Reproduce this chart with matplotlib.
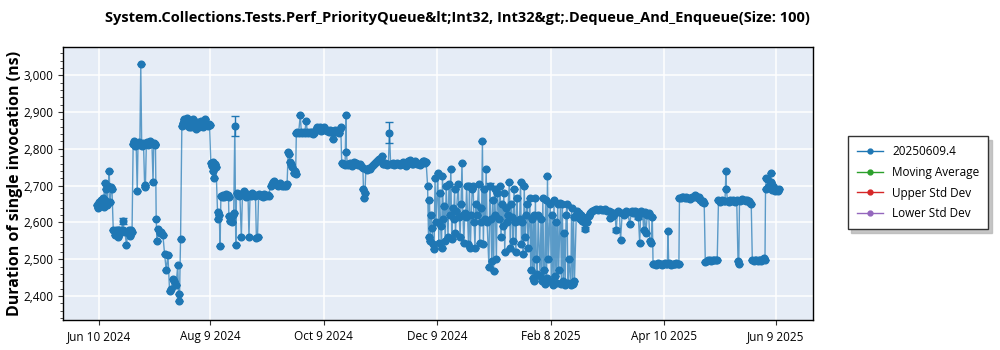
import numpy as np
import matplotlib.pyplot as plt
import matplotlib.dates as mdates
from matplotlib.lines import Line2D
from matplotlib.ticker import AutoMinorLocator, FuncFormatter
import datetime as dt

plt.rcParams['font.family'] = ['Open Sans', 'DejaVu Sans']

# days since 2024-06-10 and mean duration per run (ns)
start = dt.datetime(2024, 6, 10)

day_offset = [
    -1, -0.5, 0, 0.5, 1, 1.5, 2, 2.5, 3, 3.5, 4, 4.5, 5, 5.5, 6, 6.5, 7,
    7.7, 8.5, 9, 9.5, 10, 10.5, 11, 11.5, 12, 12.7, 13.2, 14, 14.8, 15.5, 16, 16.5, 17.2, 17.8,
    18.4, 19, 19.5, 20, 20.6, 21, 21.5, 22, 22.5, 23, 23.5, 24, 24.6, 25, 25.5, 26, 26.5, 27, 27.5,
    28, 28.5, 29.1, 29.5, 30, 30.4,
    30.8, 31.2, 31.7, 32.6, 33.5, 34.4, 35.3, 36.2, 37.1, 38.0, 38.9, 39.7, 40.6, 41.5, 42.4, 42.8,
    43.3, 43.9,
    44.6, 45, 45.5, 46, 46.5, 47, 47.5, 48, 48.5, 49, 49.5, 50, 50.5, 51, 51.5, 52, 52.5, 53, 53.5,
    54, 54.5, 55, 55.5, 56, 56.5, 57, 57.5, 58, 58.5, 59, 59.5,
    60.2, 60.7, 61.2, 61.6, 62, 62.5, 63,
    63.8, 64.2, 64.7, 65.2,
    65.6, 66.2, 66.8, 67.4, 68, 68.6, 69.2, 69.7,
    69.9, 70.5, 71, 71.5, 72, 72.5, 73.1, 73.6,
    74, 74.6, 75.2, 75.8, 76.6, 77.2, 77.8, 78.4, 79, 79.6, 80.2, 80.7, 81.3, 81.9, 82.5, 83.1, 83.7,
    84.2, 84.7, 85.3, 85.9, 86.5, 87.1, 87.7, 88.3, 88.9, 89.5, 90.1, 90.7, 91.3,
    92.3, 93, 93.7, 94.4, 95.1, 95.8, 96.5, 97.2, 97.9, 98.6, 99.3, 100, 100.6, 101.2,
    101.8, 102.3, 102.9, 103.5, 104.1, 104.7, 105.3, 105.8,
    106.2, 106.8, 107.4, 108.3, 108.9, 109.5, 110.1, 110.7, 111.5, 112.1, 112.7, 113.3, 113.9, 114.5,
    115.1, 115.7, 116.3, 116.9, 117.5, 118.1, 118.7, 119.3, 119.9, 120.5, 121.1, 121.7, 122.3, 122.9,
    123.5, 124.1, 124.7, 125.3, 125.9, 126.5, 127.1, 127.7, 128.3, 128.9, 129.5, 130.1,
    130.6, 131.2, 131.8, 132.4, 132.9, 133.1, 133.6, 134.2, 134.8, 135.4, 136, 136.6, 137.2, 137.8,
    138.4, 139, 139.6, 140.2, 140.8, 141.4,
    142, 142.3, 142.7, 143.1, 143.6, 144.2, 144.8, 145.4, 146,
    146.7, 147.3, 147.9, 148.5, 149.1, 149.7, 150.3, 150.9, 151.5, 152.1, 152.7, 153.3, 153.9, 154.5,
    155.1, 155.7, 156.3, 156.9, 157.5, 158.1, 158.7, 159.3, 159.9, 160.5, 161.1, 161.7, 162.3, 162.9,
    163.5, 164.1, 164.7, 165.3, 165.9, 166.5, 167.1, 167.7, 168.3, 168.9, 169.5, 170.1, 170.7, 171.3,
    171.9, 172.5, 173.1, 173.7, 174.3, 174.9, 175.5, 176,
    176.8, 177.3, 177.8, 178.3, 178.8, 179.3, 179.8, 180.3, 180.8, 181.3,
    182.3, 182.8, 183.3, 183.8, 184.3, 184.8, 185.3, 185.8, 186.3, 186.8,
    187.8, 188.3, 188.8, 189.3, 189.8, 190.3, 190.8, 191.3, 191.8, 192.3,
    193.3, 193.8, 194.3, 194.8, 195.3, 195.8, 196.3, 196.8, 197.3, 197.8,
    198.8, 199.3, 199.8, 200.3, 200.8, 201.3, 201.8, 202.3, 202.8, 203.3,
    204.3, 204.8, 205.3, 205.8, 206.3, 206.8, 207.3, 207.8, 208.3, 208.8,
    209.8, 210.3, 210.8, 211.3, 211.8, 212.3, 212.8, 213.3, 213.8, 214.3,
    215.3, 215.8, 216.3, 216.8, 217.3, 217.8, 218.3, 218.8, 219.3, 219.8,
    220.8, 221.3, 221.8, 222.3, 222.8, 223.3, 223.8, 224.3, 224.8, 225.3,
    226.3, 226.8, 227.3, 227.8, 228.3, 228.8, 229.3, 229.8, 230.3, 230.8,
    231.8, 232.3, 232.8, 233.3, 233.8, 234.3, 234.8, 235.3, 235.8, 236.3,
    237.3, 237.8, 238.3, 238.8, 239.3, 239.8, 240.3, 240.8, 241.3, 241.8,
    242.8, 243.3, 243.8, 244.3, 244.8, 245.3, 245.8, 246.3, 246.8, 247.3,
    248.3, 248.8, 249.3, 249.8, 250.3, 250.8, 251.3, 251.8, 252.3, 252.8,
    253.8, 254.3, 254.8, 255.3, 255.8,
    256.8, 257.4, 258, 258.6, 259.2, 259.8, 260.4, 261, 261.6, 262.2, 262.8, 263.4, 264, 264.6,
    265.5, 266.5, 267.5, 268.5, 269.5, 270.5, 271.5, 272.5, 273.5, 274.5, 275, 275.5, 276.5, 277.5,
    278.3, 279, 280, 280.6, 281.5, 282.5, 283.5, 284.5, 285.5, 286.5, 287.5, 288.5, 289.5, 290.2,
    290.9, 291.5, 292.5, 293, 293.5, 294.2, 295, 295.7, 296.4, 297.2, 297.7,
    298.1, 298.8, 299.5, 300.2, 300.9, 301.6, 302.3, 303, 303.7, 304.4, 305.1, 305.8, 306.1, 306.5,
    307.2, 307.9, 308.6, 309.3, 310, 310.7, 311.4, 312,
    312.3, 313, 313.7, 314.4, 315.1, 315.8, 316.5, 317.2, 317.9, 318.6, 319.3, 320, 320.7, 321.4,
    322.1, 322.8, 323.5, 324.2, 324.9, 325.6,
    326.2, 327, 327.8, 328.6, 329.4, 330.2, 331, 331.8, 332.6,
    333.3, 334, 334.7, 335.4, 336.1, 336.8, 337.3, 337.5, 338.2, 338.9, 339.6, 340.3, 341, 341.7,
    342.4, 343.1, 343.8, 344.2, 344.6, 345.3, 346, 346.7, 347.4, 348.1, 348.8, 349.5, 350.2, 350.9,
    351.5, 352.2, 352.9, 353.6, 354.3, 355, 355.7, 356.4, 357.1, 357.8, 358.3,
    358.6, 359.1, 359.6, 360.1, 360.6, 361.3, 361.8, 362.3, 362.8, 363.3, 363.8, 364.3, 364.8, 365.3,
    365.8,
]

duration_ns = [
    2648, 2640, 2655, 2645, 2660, 2650, 2665, 2642, 2708, 2660, 2690, 2648, 2700, 2740, 2655, 2695, 2690,
    2580, 2565, 2578, 2575, 2560, 2578, 2580, 2570, 2575, 2605, 2578, 2575, 2538, 2575, 2580, 2562, 2578, 2575,
    2812, 2820, 2808, 2815, 2684, 2810, 2818, 2812, 3030, 2808, 2815, 2810, 2695, 2702, 2812, 2818, 2810, 2816, 2820,
    2812, 2815, 2711, 2815, 2810, 2812,
    2610, 2550, 2582, 2572, 2575, 2565, 2515, 2470, 2512, 2414, 2418, 2446, 2440, 2430, 2484, 2405,
    2386, 2554,
    2862, 2870, 2875, 2880, 2872, 2865, 2885, 2870, 2860, 2865, 2858, 2862, 2880, 2868, 2870, 2855, 2862, 2865, 2872,
    2860, 2868, 2875, 2862, 2858, 2865, 2880, 2870, 2866, 2862, 2868, 2864,
    2762, 2752, 2740, 2765, 2722, 2758, 2750,
    2627, 2608, 2620, 2536,
    2672, 2668, 2675, 2670, 2672, 2678, 2674, 2670,
    2618, 2605, 2612, 2600, 2620, 2625, 2862, 2538,
    2680, 2675, 2672, 2678, 2559, 2676, 2684, 2675, 2670, 2678, 2672, 2559, 2675, 2673, 2680, 2676, 2672,
    2675, 2558, 2560, 2676, 2674, 2672, 2675, 2670, 2676, 2674, 2672, 2675, 2673,
    2698, 2705, 2710, 2712, 2704, 2702, 2700, 2706, 2702, 2700, 2698, 2702, 2700, 2704,
    2790, 2785, 2765, 2760, 2750, 2735, 2740, 2732,
    2843, 2846, 2842, 2891, 2845, 2843, 2847, 2844, 2876, 2845, 2842, 2846, 2843, 2845,
    2840, 2844, 2848, 2852, 2858, 2855, 2860, 2848, 2856, 2852, 2858, 2855, 2850, 2848,
    2846, 2850, 2845, 2848, 2826, 2846, 2850, 2845, 2848, 2843, 2855, 2858,
    2762, 2758, 2760, 2755, 2892, 2790, 2760, 2757, 2762, 2755, 2752, 2760, 2765, 2758,
    2762, 2760, 2755, 2758, 2752, 2750,
    2748, 2690, 2667, 2680, 2745, 2742, 2745, 2748, 2746,
    2752, 2756, 2760, 2762, 2765, 2768, 2770, 2772, 2776, 2780, 2760, 2758, 2762, 2760,
    2757, 2760, 2844, 2760, 2758, 2762, 2756, 2760, 2758, 2762, 2760, 2757, 2760, 2762,
    2764, 2758, 2755, 2752, 2760, 2768, 2770, 2762, 2758, 2760, 2764, 2766, 2762, 2758,
    2760, 2756, 2760, 2765, 2768, 2766, 2762, 2765,
    2700, 2560, 2660, 2550, 2620, 2585, 2540, 2527, 2720, 2600,
    2735, 2545, 2680, 2590, 2530, 2725, 2610, 2645, 2550, 2700,
    2560, 2705, 2620, 2745, 2555, 2640, 2610, 2690, 2570, 2630,
    2705, 2615, 2560, 2650, 2762, 2620, 2545, 2625, 2615, 2700,
    2540, 2700, 2530, 2620, 2690, 2700, 2600, 2530, 2650, 2620,
    2705, 2545, 2640, 2600, 2821, 2540, 2690, 2610, 2745, 2600,
    2480, 2700, 2610, 2495, 2660, 2468, 2690, 2620, 2500, 2680,
    2610, 2700, 2560, 2650, 2590, 2680, 2520, 2640, 2600, 2620,
    2710, 2530, 2650, 2615, 2550, 2690, 2600, 2520, 2665, 2605,
    2610, 2710, 2540, 2600, 2515, 2700, 2560, 2620, 2650, 2530,
    2665, 2470, 2610, 2450, 2620, 2440, 2665, 2500, 2460, 2620,
    2455, 2610, 2440, 2665, 2470, 2433, 2660, 2450, 2726, 2500,
    2650, 2440, 2620, 2430, 2660, 2455, 2600, 2435, 2650, 2470,
    2654, 2432, 2650, 2440, 2570, 2430, 2620, 2650, 2435, 2500,
    2430, 2640, 2432, 2615, 2440,
    2620, 2632, 2625, 2610, 2620, 2605, 2615, 2600, 2582, 2612, 2600, 2618, 2625, 2628,
    2630, 2633, 2636, 2634, 2637, 2635, 2633, 2636, 2630, 2632, 2612, 2628, 2618, 2625,
    2579, 2630, 2628, 2552, 2625, 2620, 2632, 2628, 2595, 2630, 2626, 2632, 2628, 2615,
    2545, 2630, 2625, 2580, 2628, 2570, 2620, 2625, 2550, 2545, 2615,
    2486, 2488, 2484, 2487, 2489, 2486, 2488, 2485, 2487, 2489, 2486, 2488, 2577, 2490,
    2487, 2485, 2488, 2486, 2487, 2489, 2486, 2488,
    2665, 2667, 2670, 2668, 2666, 2668, 2665, 2667, 2664, 2666, 2668, 2670, 2674, 2672,
    2666, 2668, 2660, 2655, 2657, 2654,
    2493, 2496, 2497, 2498, 2496, 2497, 2499, 2497, 2498,
    2660, 2656, 2658, 2662, 2657, 2659, 2740, 2690, 2658, 2655, 2660, 2657, 2662, 2658,
    2656, 2660, 2495, 2488, 2658, 2662, 2664, 2660, 2662, 2658, 2661, 2659, 2652, 2650,
    2497, 2496, 2498, 2497, 2495, 2497, 2498, 2496, 2500, 2503, 2497,
    2690, 2722, 2718, 2695, 2700, 2735, 2710, 2688, 2700, 2692, 2686, 2690, 2688, 2684,
    2690,
]

# runs with a noticeable spread
err_day = [12.7, 73.1, 156.3, 210.3, 261.6, 278.3, 290.2]
err_ns = [8, 27, 28, 7, 6, 5, 5]

tick_labels = ['Jun 10 2024', 'Aug 9 2024', 'Oct 9 2024', 'Dec 9 2024',
               'Feb 8 2025', 'Apr 10 2025', 'Jun 9 2025']
tick_dates = [dt.datetime(2024, 6, 10), dt.datetime(2024, 8, 9), dt.datetime(2024, 10, 9),
              dt.datetime(2024, 12, 9), dt.datetime(2025, 2, 8), dt.datetime(2025, 4, 10),
              dt.datetime(2025, 6, 9)]

blue = '#1f77b4'
x = mdates.date2num(start) + np.array(day_offset)
y = np.array(duration_ns, dtype=float)
yerr = np.zeros(len(y))
for d, e in zip(err_day, err_ns):
    yerr[np.argmin(np.abs(np.array(day_offset) - d))] = e

fig = plt.figure(figsize=(10, 3.5), dpi=100)
ax = fig.add_axes([0.063, 0.086, 0.750, 0.780])
ax.set_facecolor('#e5ecf6')

ax.plot(x, y, '-', color=blue, lw=1.0, alpha=0.7, zorder=2)
ax.errorbar(x, y, yerr=yerr, fmt='none', ecolor=blue, elinewidth=1.0, capsize=3, zorder=3)
ax.plot(x, y, 'o', color=blue, ms=4.8, mec=blue, zorder=4)

ax.xaxis_date()
ax.set_xticks(mdates.date2num(tick_dates))
ax.set_xticklabels(tick_labels)
ax.yaxis.set_major_formatter(FuncFormatter(lambda v, p: f'{int(v):,}'))
ax.set_yticks(np.arange(2400, 3001, 100))
ax.yaxis.set_minor_locator(AutoMinorLocator(5))
ax.set_ylim(2335, 3077)
ax.grid(True, color='white', lw=1.1)
ax.set_axisbelow(True)
ax.tick_params(labelsize=8.5, length=3.5, color='#333333')
ax.tick_params(which='minor', length=2, color='#333333')
for s in ax.spines.values():
    s.set_color('black')
    s.set_linewidth(1.0)

fig.text(0.457, 0.948, 'System.Collections.Tests.Perf_PriorityQueue&lt;Int32, Int32&gt;.Dequeue_And_Enqueue(Size: 100)',
         ha='center', va='center', fontsize=10.5, fontweight='bold')
fig.text(0.015, 0.477, 'Duration of single invocation (ns)', rotation=90,
         ha='center', va='center', fontsize=11.5, fontweight='bold')

handles = [Line2D([], [], color=c, marker='o', ms=3.5, lw=1.0)
           for c in [blue, '#2ca02c', '#d62728', '#9467bd']]
leg = fig.legend(handles, ['20250609.4', 'Moving Average', 'Upper Std Dev', 'Lower Std Dev'],
                 loc='center left', bbox_to_anchor=(0.842, 0.478), fontsize=8.5,
                 frameon=True, fancybox=False, edgecolor='#333333',
                 shadow={'ox': 2.5, 'oy': -2.5, 'color': '#b8b8b8', 'alpha': 0.8},
                 handlelength=2.2, borderpad=0.75, labelspacing=0.65)
leg.get_frame().set_linewidth(1.0)

fig.savefig('out.png', dpi=100)
